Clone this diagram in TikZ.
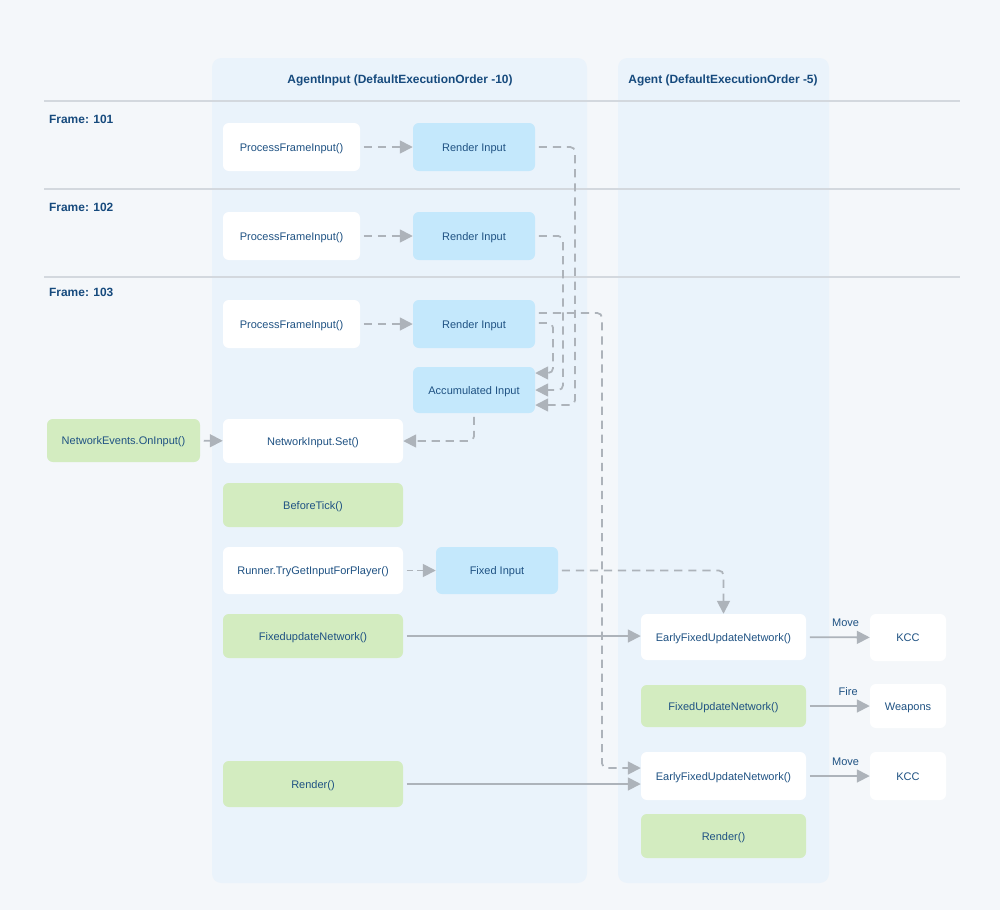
\documentclass[tikz,border=0pt]{standalone}
\usepackage{fontspec}
\setmainfont{Liberation Sans}
\usepackage{xcolor}
\usetikzlibrary{arrows.meta}

\definecolor{bgcol}{HTML}{F4F7FA}
\definecolor{panelcol}{HTML}{EAF3FB}
\definecolor{sepcol}{HTML}{D3D8DE}
\definecolor{bluecol}{HTML}{C4E8FC}
\definecolor{greencol}{HTML}{D3ECC0}
\definecolor{txtcol}{HTML}{1F5283}
\definecolor{hdrcol}{HTML}{164A7D}
\definecolor{arrcol}{HTML}{ADB3BA}

\tikzset{
	box/.style={rounded corners=5pt, inner sep=0pt, text=txtcol, font=\fontsize{9.4}{11}\selectfont, text height=0.92em, text depth=0.2em},
	sz/.style 2 args={minimum width=#1*0.03cm, minimum height=#2*0.03cm},
	whitebox/.style={box, fill=white},
	bluebox/.style={box, fill=bluecol},
	greenbox/.style={box, fill=greencol},
	conn/.style={draw=arrcol, line width=1.5pt, shorten <=3pt, -{Triangle[length=11pt,width=11pt]}},
	dconn/.style={conn, dash pattern=on 7pt off 5pt, rounded corners=4pt},
	hdr/.style={text=hdrcol, font=\fontsize{10.2}{12}\selectfont\bfseries},
	lbl/.style={text=txtcol, font=\fontsize{9.4}{11}\selectfont},
}

\begin{document}
\begin{tikzpicture}[x=0.03cm, y=-0.03cm]
		\fill[bgcol] (0,0) rectangle (1000,910);
		\useasboundingbox (0,0) rectangle (1000,910);

		\fill[panelcol, rounded corners=8pt] (212,58) rectangle (587,883);
		\fill[panelcol, rounded corners=8pt] (618,58) rectangle (829,883);

		\draw[sepcol, line width=1.5pt] (44,101) -- (960,101);
		\draw[sepcol, line width=1.5pt] (44,189) -- (960,189);
		\draw[sepcol, line width=1.5pt] (44,277) -- (960,277);

		\node[hdr] (hdrin) at (400,80) {AgentInput (DefaultExecutionOrder -10)};
		\node[hdr] (hdrag) at (723,80) {Agent (DefaultExecutionOrder -5)};
		\node[hdr, anchor=west] (fr101) at (45,119) {Frame: 101};
		\node[hdr, anchor=west] (fr102) at (45,207) {Frame: 102};
		\node[hdr, anchor=west] (fr103) at (45,292) {Frame: 103};

		\node[whitebox, sz={137}{48}] (pfi1) at (291.5,147) {ProcessFrameInput()};
		\node[bluebox, sz={122}{48}] (ri1) at (474,147) {Render Input};
		\node[whitebox, sz={137}{48}] (pfi2) at (291.5,236) {ProcessFrameInput()};
		\node[bluebox, sz={122}{48}] (ri2) at (474,236) {Render Input};
		\node[whitebox, sz={137}{48}] (pfi3) at (291.5,324) {ProcessFrameInput()};
		\node[bluebox, sz={122}{48}] (ri3) at (474,324) {Render Input};
		\node[bluebox, sz={122}{46}] (acc) at (474,390) {Accumulated Input};

		\node[greenbox, sz={153}{43}] (nev) at (123.5,440.5) {NetworkEvents.OnInput()};
		\node[whitebox, sz={180}{44}] (nset) at (313,441) {NetworkInput.Set()};
		\node[greenbox, sz={180}{44}] (btick) at (313,505) {BeforeTick()};
		\node[whitebox, sz={180}{47}] (runner) at (313,570.5) {Runner.TryGetInputForPlayer()};
		\node[bluebox, sz={122}{47}] (fixin) at (497,570.5) {Fixed Input};
		\node[greenbox, sz={180}{44}] (fun) at (313,636) {FixedupdateNetwork()};
		\node[greenbox, sz={180}{46}] (rend) at (313,784) {Render()};

		\node[whitebox, sz={165}{46}] (efun1) at (723.5,637) {EarlyFixedUpdateNetwork()};
		\node[greenbox, sz={165}{42}] (fixun) at (723.5,706) {FixedUpdateNetwork()};
		\node[whitebox, sz={165}{48}] (efun2) at (723.5,776) {EarlyFixedUpdateNetwork()};
		\node[greenbox, sz={165}{44}] (rend2) at (723.5,836) {Render()};

		\node[whitebox, sz={76}{47}] (kcc1) at (908,637.5) {KCC};
		\node[whitebox, sz={76}{44}] (weap) at (908,706) {Weapons};
		\node[whitebox, sz={76}{48}] (kcc2) at (908,776) {KCC};

		\coordinate (c1) at (575,405);
		\coordinate (c2) at (563,390);
		\coordinate (c3a) at (602,313);
		\coordinate (c3b) at (602,768);
		\coordinate (c4a) at (553,323);
		\coordinate (c4b) at (553,373);

		\draw[dconn] (pfi1) -- (ri1);
		\draw[dconn] (pfi2) -- (ri2);
		\draw[dconn] (pfi3) -- (ri3);
		\draw[dconn] (ri1.east) -| (c1) -- (c1 -| acc.east);
		\draw[dconn] (ri2.east) -| (c2) -- (c2 -| acc.east);
		\draw[dconn] (ri3.east |- c3a) -- (c3a) -- (c3b) -- (c3b -| efun2.west);
		\draw[dconn] (ri3.east |- c4a) -- (c4a) -- (c4b) -- (c4b -| acc.east);
		\draw[dconn] (acc.south) |- (nset.east);
		\draw[conn] (nev) -- (nset);
		\draw[dconn, dash pattern=on 5pt off 4pt] (runner) -- (fixin);
		\draw[dconn] (fixin.east) -| (efun1.north);
		\draw[conn] (fun.east) -- (fun.east -| efun1.west);
		\draw[conn] (rend.east) -- (rend.east -| efun2.west);

		\draw[conn] (efun1) -- (kcc1) node[lbl, pos=0.62, above=5pt] {Move};
		\draw[conn] (fixun) -- (weap) node[lbl, pos=0.66, above=5pt] {Fire};
		\draw[conn] (efun2) -- (kcc2) node[lbl, pos=0.62, above=5pt] {Move};
	\end{tikzpicture}
\end{document}
